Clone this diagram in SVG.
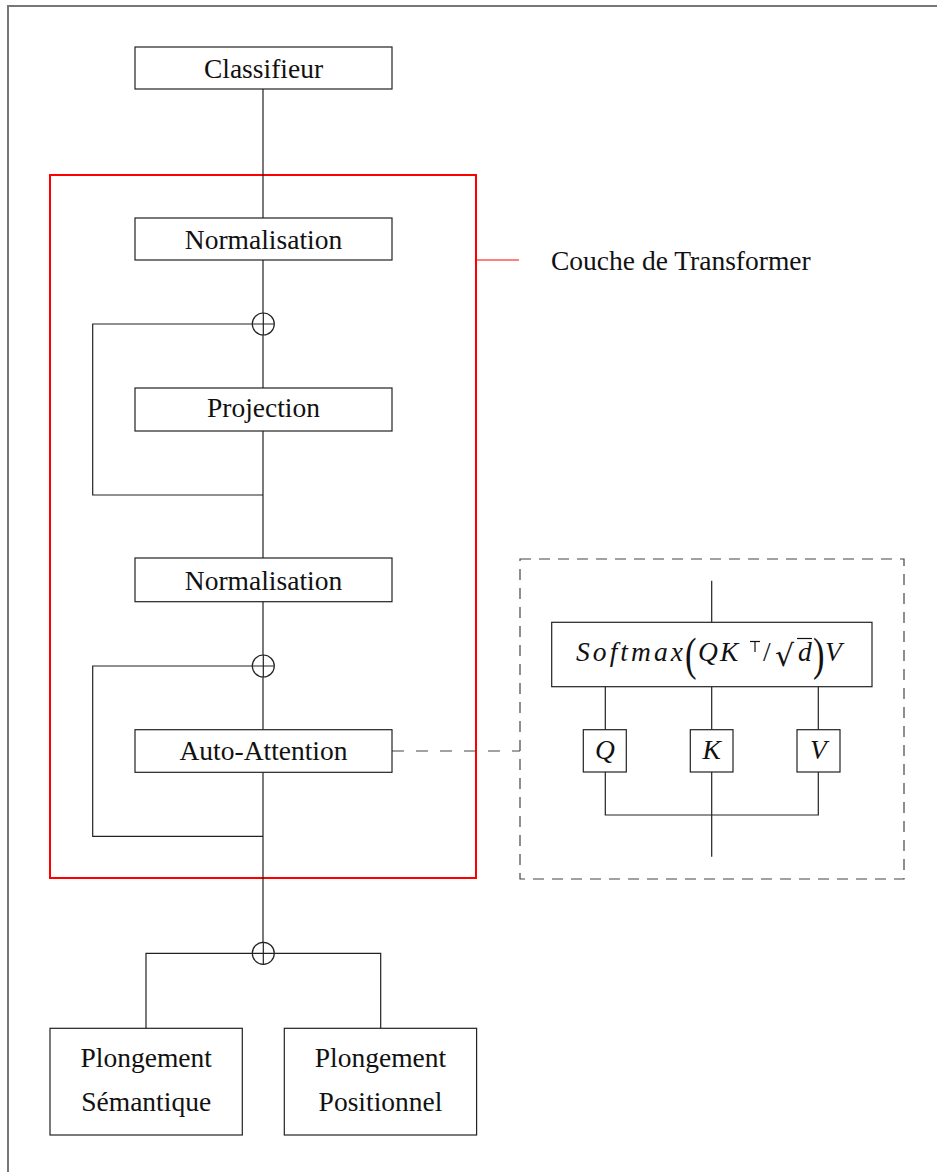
<svg xmlns="http://www.w3.org/2000/svg" width="937" height="1172" viewBox="0 0 937 1172">
<style>
.box{fill:#fff;stroke:#222;stroke-width:1.2}
.ln{fill:none;stroke:#222;stroke-width:1.2}
.t{font-family:'Liberation Serif','DejaVu Serif',serif;font-size:27.5px;fill:#111}
.m{font-family:'Liberation Serif','DejaVu Serif',serif;font-size:27.5px;font-style:italic;fill:#111}
.p{font-family:'Liberation Serif','DejaVu Serif',serif;font-size:46px;fill:#111}
.r{font-family:'DejaVu Serif','Liberation Serif',serif;font-size:30px;fill:#111}
.c{text-anchor:middle}
</style>
<rect x="8" y="6" width="940" height="1180" fill="#fff" stroke="#777" stroke-width="2"/>
<g id="transformer-layer">
<rect x="50" y="175" width="426" height="703" fill="none" stroke="#ff0000" stroke-width="2"/>
<line x1="476" y1="260" x2="519" y2="260" stroke="#ff0000" stroke-width="1.2"/>
<text class="t" x="551" y="270">Couche de Transformer</text>
</g>
<g id="connectors">
<path class="ln" d="M263,89 V218 M263,260 V313 M263,335 V388 M263,431 V558 M263,495 H92.7 V324 H252"/>
<path class="ln" d="M263,601.7 V655 M263,677 V729.7 M263,772.3 V942 M263,836.3 H92.7 V666 H252"/>
<path class="ln" d="M252,953.3 H146 V1028.3 M274,953.3 H380.7 V1028.3"/>
<line x1="392" y1="751" x2="520" y2="751" stroke="#444" stroke-width="1.2" stroke-dasharray="12 12"/>
<path class="ln" d="M711.7,580.7 V622.3 M605.3,686.7 V729.7 M711.7,686.7 V729.7 M818.3,686.7 V729.7 M605.3,772 V815 H818.3 V772 M711.7,772 V856.7"/>
</g>
<g id="classifieur"><rect class="box" x="135" y="47" width="257" height="42"/><text class="t c" x="263.5" y="78">Classifieur</text></g>
<g id="norm1"><rect class="box" x="135" y="218" width="257" height="42"/><text class="t c" x="263.5" y="248.5">Normalisation</text></g>
<g id="plus1"><circle class="box" cx="263.3" cy="324" r="11"/><path class="ln" d="M252.3,324 H274.3 M263.3,313 V335"/></g>
<g id="projection"><rect class="box" x="135" y="388" width="257" height="43"/><text class="t c" x="263.5" y="416.5">Projection</text></g>
<g id="norm2"><rect class="box" x="135" y="558" width="257" height="43.7"/><text class="t c" x="263.5" y="590">Normalisation</text></g>
<g id="plus2"><circle class="box" cx="263.3" cy="666" r="11"/><path class="ln" d="M252.3,666 H274.3 M263.3,655 V677"/></g>
<g id="auto-attention"><rect class="box" x="135" y="729.7" width="257" height="42.6"/><text class="t c" x="263.5" y="760">Auto-Attention</text></g>
<g id="plus3"><circle class="box" cx="263.3" cy="953.3" r="11"/><path class="ln" d="M252.3,953.3 H274.3 M263.3,942.3 V964.3"/></g>
<g id="plongement-semantique"><rect class="box" x="50" y="1028.3" width="192.3" height="106.7"/><text class="t c" x="146.2" y="1067">Plongement</text><text class="t c" x="146.2" y="1110.5">Sémantique</text></g>
<g id="plongement-positionnel"><rect class="box" x="284.3" y="1028.3" width="192.3" height="106.7"/><text class="t c" x="380.5" y="1067">Plongement</text><text class="t c" x="380.5" y="1111">Positionnel</text></g>
<g id="attention-detail">
<rect x="520" y="559" width="384" height="320" fill="none" stroke="#444" stroke-width="1.2" stroke-dasharray="11 8"/>
</g>
<g id="softmax">
<rect class="box" x="551.7" y="622.3" width="320.3" height="64.4"/>
<text class="m" x="576" y="661" textLength="107" lengthAdjust="spacing">Softmax</text>
<text class="p" x="685" y="670" transform="translate(685 0) scale(0.75 1) translate(-685 0)">(</text>
<text class="m" x="698" y="661">Q</text>
<text class="m" x="720" y="661">K</text>
<line x1="750" y1="641.5" x2="760" y2="641.5" stroke="#111" stroke-width="1.2"/>
<line x1="755" y1="641.5" x2="755" y2="652" stroke="#111" stroke-width="1.2"/>
<text class="t" x="763" y="661">/</text>
<text class="r" x="775" y="666">√</text>
<line x1="797" y1="638.5" x2="812" y2="638.5" stroke="#111" stroke-width="1.2"/>
<text class="m" x="798" y="661">d</text>
<text class="p" x="813" y="670" transform="translate(813 0) scale(0.75 1) translate(-813 0)">)</text>
<text class="m" x="825" y="661">V</text>
</g>
<g id="q"><rect class="box" x="583.3" y="729.7" width="43" height="42.3"/><text class="m c" x="605" y="759">Q</text></g>
<g id="k"><rect class="box" x="690.3" y="729.7" width="42.7" height="42.3"/><text class="m c" x="711.7" y="759">K</text></g>
<g id="v"><rect class="box" x="797" y="729.7" width="43" height="42.3"/><text class="m c" x="818.5" y="759">V</text></g>
</svg>
